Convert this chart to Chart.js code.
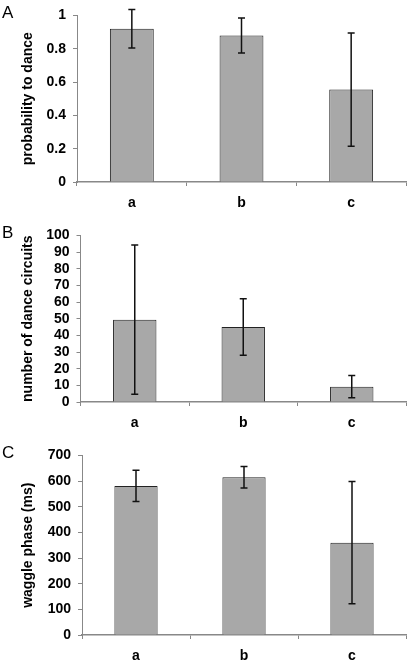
<!DOCTYPE html>
<html>
<head>
<meta charset="utf-8">
<script src="https://cdn.jsdelivr.net/npm/chart.js@4.4.0/dist/chart.umd.min.js"></script>
<style>
  html, body { margin: 0; padding: 0; background: #fff; }
  #wrap { position: relative; width: 412px; height: 665px; overflow: hidden; }
  .panel { position: absolute; left: 0; width: 412px; }
  .letter { position: absolute; left: 2px; font: 17px "Liberation Sans", Arial, sans-serif; line-height: 17px; color: #000; }
</style>
</head>
<body>
<div id="wrap">
  <div class="panel" style="top:0px;height:220px"><canvas id="chartA"></canvas></div>
  <div class="panel" style="top:220px;height:220px"><canvas id="chartB"></canvas></div>
  <div class="panel" style="top:440px;height:225px"><canvas id="chartC"></canvas></div>
  <div class="letter" style="top:4px">A</div>
  <div class="letter" style="top:224px">B</div>
  <div class="letter" style="top:444px">C</div>
</div>
<script>
// categories (same for all three panels)
var categories = ['a', 'b', 'c'];

// panel A : probability to dance (mean, +/- error)
var probMeans = [0.92, 0.88, 0.555];
var probErrs = [0.115, 0.105, 0.34];

// panel B : number of dance circuits
var circuitMeans = [49.4, 45, 9.2];
var circuitErrs = [44.8, 17, 6.7];

// panel C : waggle phase (ms)
var waggleMeans = [581, 615, 360];
var waggleErrs = [61, 42, 238];

var FONT = '"Liberation Sans", Arial, sans-serif';

// draws the vertical error bars with caps
const errorBars = {
    id: 'errorBars',
    afterDatasetsDraw(chart, args, opts) {
        var ctx = chart.ctx;
        var meta = chart.getDatasetMeta(0);
        var y = chart.scales.y;
        ctx.save();
        ctx.strokeStyle = '#111';
        ctx.lineWidth = 1.5;
        meta.data.forEach((bar, i) => {
            var top = y.getPixelForValue(opts.means[i] + opts.errs[i]);
            var bot = y.getPixelForValue(opts.means[i] - opts.errs[i]);
            var x = bar.x;
            ctx.beginPath();
            ctx.moveTo(x, top); ctx.lineTo(x, bot);
            ctx.moveTo(x - 3.5, top); ctx.lineTo(x + 3.5, top);
            ctx.moveTo(x - 3.5, bot); ctx.lineTo(x + 3.5, bot);
            ctx.stroke();
        });
        ctx.restore();
    }
};

function makePanel(id, means, errs, max, step, title, leftW, padTop, xHeight) {
    return new Chart(id, {
        type: 'bar',
        data: {
            labels: categories,
            datasets: [{
                data: means,
                backgroundColor: '#a8a8a8',
                borderColor: '#222',
                borderWidth: 1,
                categoryPercentage: 1,
                barPercentage: 0.4
            }]
        },
        options: {
            responsive: true,
            maintainAspectRatio: false,
            animation: false,
            layout: { padding: { top: padTop, right: 6, left: 0, bottom: 0 } },
            plugins: {
                legend: { display: false },
                tooltip: { enabled: false },
                errorBars: { means: means, errs: errs }
            },
            scales: {
                x: {
                    afterFit: (s) => { s.height = xHeight; },
                    border: { color: '#888', width: 1.5 },
                    grid: { drawOnChartArea: false, color: '#888', tickLength: 4, offset: true },
                    ticks: { color: '#000', padding: 9, font: { family: FONT, size: 14, weight: 'bold' } }
                },
                y: {
                    min: 0,
                    max: max,
                    afterFit: (s) => { s.width = leftW; },
                    border: { color: '#888', width: 1 },
                    grid: { drawOnChartArea: false, color: '#888', tickLength: 4 },
                    ticks: {
                        stepSize: step,
                        autoSkip: false,
                        color: '#000',
                        padding: 7,
                        font: { family: FONT, size: 14, weight: 'bold' },
                        callback: (v) => String(Math.round(v * 10) / 10)
                    },
                    title: {
                        display: true,
                        text: title,
                        color: '#000',
                        padding: { top: 20, bottom: 0 },
                        font: { family: FONT, size: 14, weight: 'bold' }
                    }
                }
            }
        },
        plugins: [errorBars]
    });
}

makePanel('chartA', probMeans, probErrs, 1, 0.2, 'probability to dance', 77, 8.5, 38);
makePanel('chartB', circuitMeans, circuitErrs, 100, 10, 'number of dance circuits', 80.5, 11, 38);
makePanel('chartC', waggleMeans, waggleErrs, 700, 100, 'waggle phase (ms)', 82, 11, 30);
</script>
</body>
</html>
